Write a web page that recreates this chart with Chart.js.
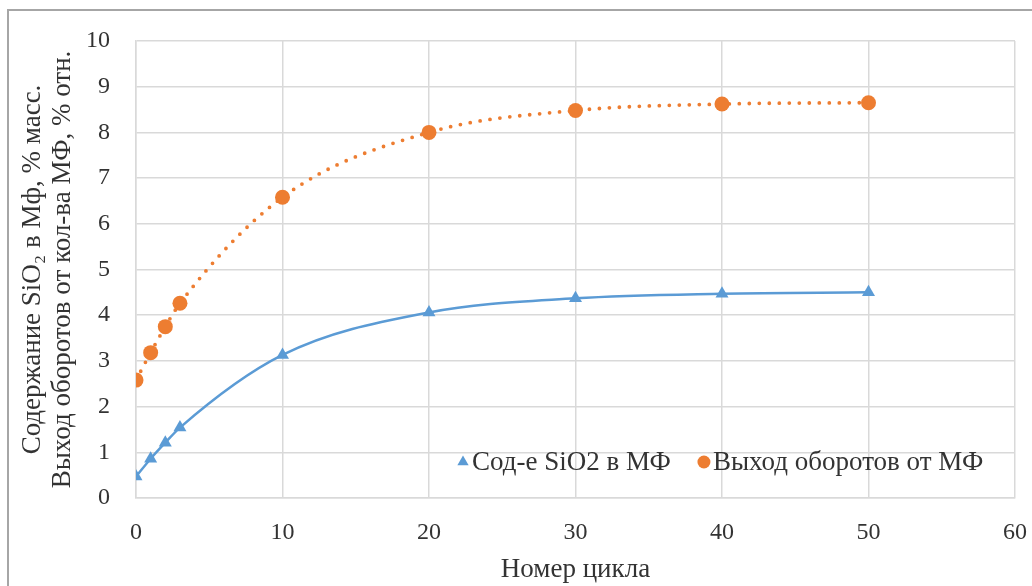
<!DOCTYPE html>
<html>
<head>
<meta charset="utf-8">
<script src="https://cdn.jsdelivr.net/npm/chart.js@4.4.1/dist/chart.umd.min.js"></script>
<style>
  html, body { margin: 0; padding: 0; background: #fff; }
  #wrap { width: 1032px; height: 586px; position: relative; }
</style>
</head>
<body>
<div id="wrap"><canvas id="c" width="1032" height="586"></canvas></div>
<script>
// Cycle numbers (x) and measured values
const cycles = [0, 1, 2, 3, 10, 20, 30, 40, 50];
const sio2Content = [0.47, 0.86, 1.21, 1.54, 3.13, 4.06, 4.37, 4.47, 4.50];
const turnoverYield = [2.58, 3.18, 3.75, 4.26, 6.58, 8.00, 8.48, 8.62, 8.65];

const xTicks = [0, 10, 20, 30, 40, 50, 60];
const yTicks = [0, 1, 2, 3, 4, 5, 6, 7, 8, 9, 10];

const seriesNames = ['Сод-е SiO2 в МФ', 'Выход оборотов от МФ'];
const yTitle = ['Содержание SiO\u2082 в Мф, % масс.', 'Выход оборотов от кол-ва МФ, % отн.'];
const xTitle = 'Номер цикла';

const BLUE = '#5B9BD5';
const ORANGE = '#ED7D31';
const TEXT = '#333333';
const GRID = '#d9d9d9';
const FONT = '"Liberation Serif", "Times New Roman", serif';

const toPoints = (xs, ys) => xs.map((x, i) => ({ x: x, y: ys[i] }));

// Outer frame of the figure
const framePlugin = {
  id: 'frame',
  beforeDraw(chart) {
    const ctx = chart.ctx;
    ctx.save();
    ctx.fillStyle = '#fff';
    ctx.fillRect(0, 0, chart.width, chart.height);
    ctx.strokeStyle = '#a6a6a6';
    ctx.lineWidth = 2;
    ctx.beginPath();
    ctx.moveTo(8, chart.height);
    ctx.lineTo(8, 10);
    ctx.lineTo(chart.width, 10);
    ctx.stroke();
    ctx.restore();
  }
};

// Legend drawn inside the plot area, markers only
const innerLegend = {
  id: 'innerLegend',
  afterDatasetsDraw(chart) {
    const ctx = chart.ctx;
    const y = 462;
    let x = 456;
    ctx.save();
    ctx.font = '27px ' + FONT;
    ctx.textBaseline = 'middle';
    ctx.textAlign = 'left';
    chart.data.datasets.forEach((ds) => {
      ctx.fillStyle = ds.backgroundColor;
      ctx.beginPath();
      if (ds.pointStyle === 'triangle') {
        const rr = 6.5;
        ctx.moveTo(x + 7, y - rr);
        ctx.lineTo(x + 7 + rr * 0.866, y + rr * 0.5);
        ctx.lineTo(x + 7 - rr * 0.866, y + rr * 0.5);
      } else {
        ctx.arc(x + 7, y, 6.5, 0, Math.PI * 2);
      }
      ctx.closePath();
      ctx.fill();
      ctx.fillStyle = TEXT;
      ctx.fillText(ds.label, x + 16, y + 1);
      x += 16 + ctx.measureText(ds.label).width + 26;
    });
    ctx.restore();
  }
};

function draw() {
  new Chart(document.getElementById('c'), {
    type: 'scatter',
    data: {
      datasets: [
        {
          label: seriesNames[0],
          data: toPoints(cycles, sio2Content),
          showLine: true,
          cubicInterpolationMode: 'monotone',
          borderColor: BLUE,
          backgroundColor: BLUE,
          borderWidth: 2.5,
          pointStyle: 'triangle',
          pointRadius: 7.5,
          pointBorderWidth: 0,
          pointBackgroundColor: BLUE
        },
        {
          label: seriesNames[1],
          data: toPoints(cycles, turnoverYield),
          showLine: true,
          cubicInterpolationMode: 'monotone',
          borderColor: ORANGE,
          backgroundColor: ORANGE,
          borderWidth: 3.8,
          borderDash: [0, 10],
          borderCapStyle: 'round',
          pointStyle: 'circle',
          pointRadius: 7.5,
          pointBorderWidth: 0,
          pointBackgroundColor: ORANGE
        }
      ]
    },
    options: {
      responsive: false,
      animation: false,
      devicePixelRatio: 1,
      layout: { autoPadding: false, padding: { left: 0, top: 41, right: 17, bottom: 0 } },
      plugins: {
        legend: { display: false },
        tooltip: { enabled: false }
      },
      scales: {
        x: {
          type: 'linear',
          min: 0,
          max: 60,
          afterBuildTicks(scale) { scale.ticks = xTicks.map(v => ({ value: v })); },
          ticks: { font: { family: FONT, size: 24 }, color: TEXT, padding: 20 },
          grid: { color: GRID, lineWidth: 1.5, drawTicks: false },
          border: { color: GRID, width: 1.5 },
          title: {
            display: true,
            text: xTitle,
            color: TEXT,
            font: { family: FONT, size: 27 },
            padding: { top: 6, bottom: 0 }
          },
          afterFit(scale) {
            scale.height = 88;
            scale.paddingRight = 0;
            scale.paddingLeft = 0;
          }
        },
        y: {
          type: 'linear',
          min: 0,
          max: 10,
          afterBuildTicks(scale) { scale.ticks = yTicks.map(v => ({ value: v })); },
          ticks: { font: { family: FONT, size: 24 }, color: TEXT, padding: 26 },
          grid: { color: GRID, lineWidth: 1.5, drawTicks: false },
          border: { color: GRID, width: 1.5 },
          title: {
            display: true,
            text: yTitle,
            color: TEXT,
            font: { family: FONT, size: 27, lineHeight: 1.11 },
            padding: { top: 18, bottom: 0 }
          },
          afterFit(scale) { scale.width = 136; }
        }
      }
    },
    plugins: [framePlugin, innerLegend]
  });
}

// Make sure the serif face is ready before the canvas text is measured
Promise.all([
  document.fonts.load('24px "Liberation Serif"'),
  document.fonts.load('27px "Liberation Serif"')
]).then(draw, draw);
</script>
</body>
</html>
